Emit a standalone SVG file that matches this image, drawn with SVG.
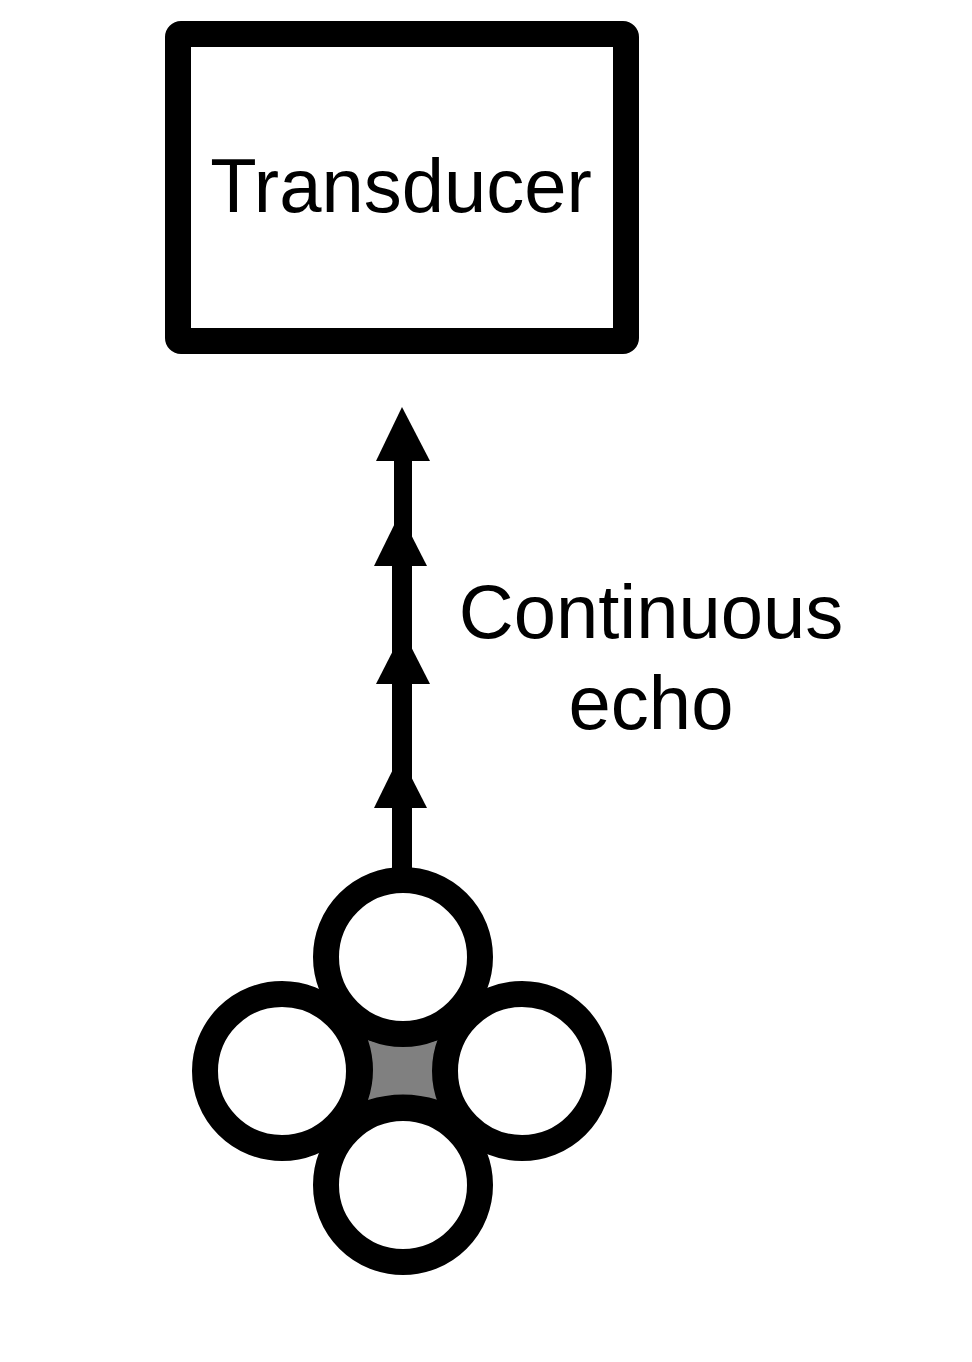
<svg xmlns="http://www.w3.org/2000/svg" width="972" height="1362" viewBox="0 0 972 1362">
<style>
.t{font-family:"Liberation Sans",Arial,sans-serif;font-size:76px;fill:#000;text-anchor:middle}
.c{fill:#fff;stroke:#000;stroke-width:26}
.h{fill:#000}
</style>
<rect width="972" height="1362" fill="#fff"/>
<g id="transducer">
<rect x="178" y="34" width="448" height="307" rx="3" fill="#fff" stroke="#000" stroke-width="26" stroke-linejoin="round"/>
<text class="t" x="401" y="212">Transducer</text>
</g>
<g id="connectors">
<rect class="h" x="394" y="450" width="18" height="120"/>
<rect class="h" x="392" y="560" width="20" height="320"/>
<polygon class="h" points="402,407 430,461 376,461"/>
<polygon class="h" points="400,513 427,566 374,566"/>
<polygon class="h" points="403,631 430,684 376,684"/>
<polygon class="h" points="400,755 427,808 374,808"/>
</g>
<g id="label">
<text class="t" x="651" y="638">Continuous</text>
<text class="t" x="651" y="729">echo</text>
</g>
<g id="cluster">
<rect x="355" y="1025" width="95" height="92" fill="#000"/>
<path d="M368,1040 Q403,1051 438,1040 Q428,1070 438,1100 Q403,1089 368,1100 Q378,1070 368,1040 Z" fill="#808080"/>
<circle id="c-top" class="c" cx="403" cy="957" r="77"/>
<circle id="c-left" class="c" cx="282" cy="1071" r="77"/>
<circle id="c-right" class="c" cx="522" cy="1071" r="77"/>
<circle id="c-bottom" class="c" cx="403" cy="1185" r="77"/>
</g>
</svg>
